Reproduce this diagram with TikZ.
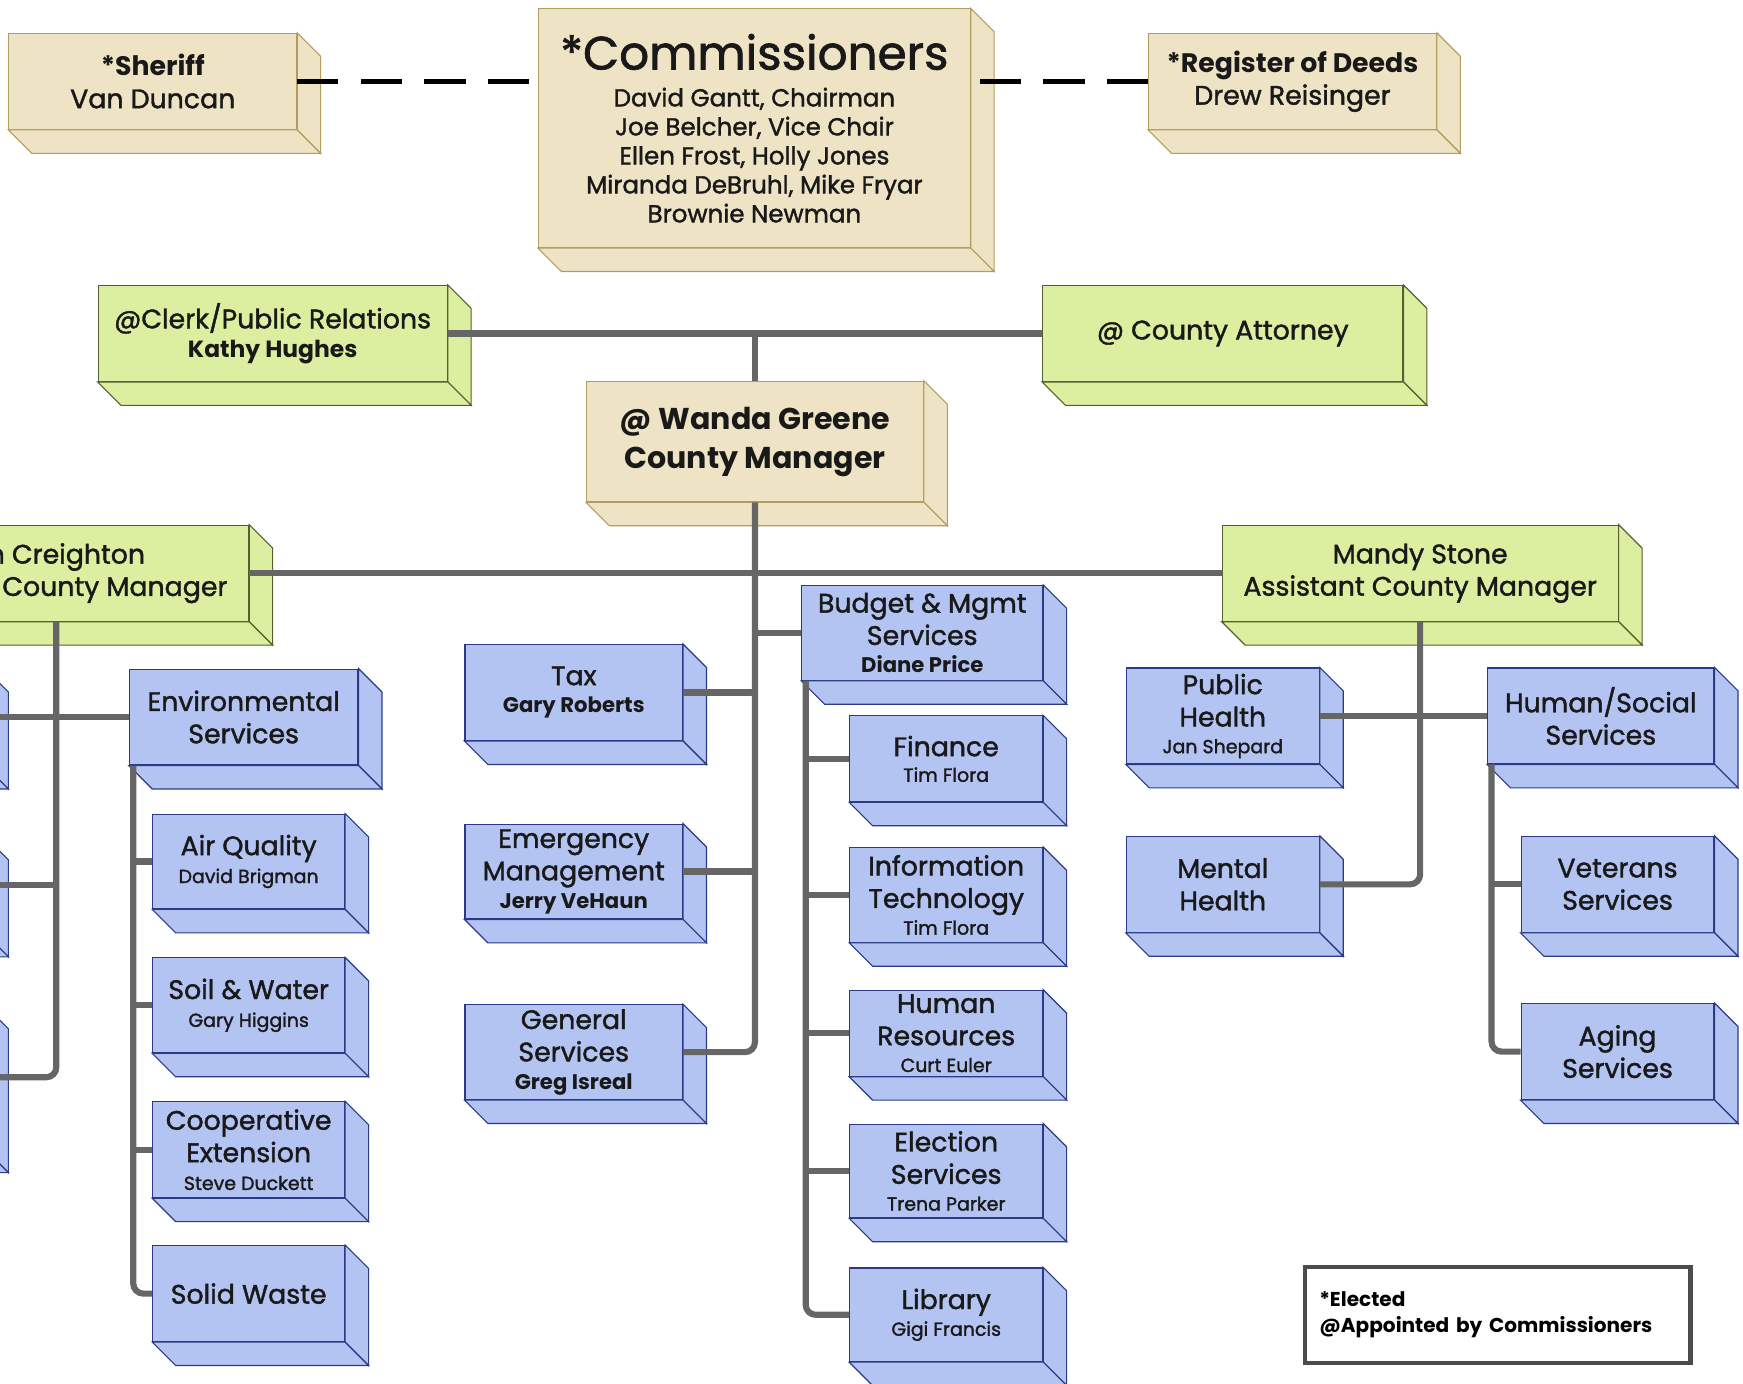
\documentclass[tikz,border=0pt]{standalone}
\usepackage{fontspec}
\setmainfont{Poppins}[UprightFeatures={FakeBold=1.5}]
\definecolor{tanfill}{HTML}{EEE4C5}
\definecolor{tanline}{HTML}{B39D5E}
\definecolor{greenfill}{HTML}{DCEFA0}
\definecolor{greenline}{HTML}{55602E}
\definecolor{bluefill}{HTML}{B4C4F2}
\definecolor{blueline}{HTML}{2B3A86}
\definecolor{connc}{HTML}{666666}
\newcommand\fmain{\fontsize{24}{29}\selectfont}
\newcommand\fname{\fontsize{17}{25}\selectfont}
\newcommand\fbname{\fontsize{19}{25}\selectfont\bfseries}
\begin{document}
\begin{tikzpicture}[x=1pt,y=-1pt,
  box/.style={rectangle, draw, line width=1pt, inner sep=0pt, align=center, font=\fmain, text=black!90},
  tanbox/.style={box, fill=tanfill, draw=tanline},
  greenbox/.style={box, fill=greenfill, draw=greenline},
  bluebox/.style={box, fill=bluefill, draw=blueline},
  tanface/.style={fill=tanfill, draw=tanline, line width=1pt},
  greenface/.style={fill=greenfill, draw=greenline, line width=1pt},
  blueface/.style={fill=bluefill, draw=blueline, line width=1pt},
  conn/.style={draw=connc, line width=5.5pt, rounded corners=9pt},
  dashline/.style={draw=black, line width=4pt, dash pattern=on 37pt off 20pt}]
\useasboundingbox (0,0) rectangle (1563,1241);
\clip (0,0) rectangle (1563,1241);
% elected and top level
\node[tanbox, minimum width=258pt, minimum height=86pt] (sheriff) at (137,73) {{\bfseries *Sheriff}\\Van Duncan};
\node[tanbox, minimum width=387pt, minimum height=214pt, font=\fontsize{22}{26}\selectfont] (comm) at (676.5,115) {{\fontsize{42}{50}\selectfont *Commissioners}\\[7pt]
  David Gantt, Chairman\\Joe Belcher, Vice Chair\\Ellen Frost, Holly Jones\\Miranda DeBruhl, Mike Fryar\\Brownie Newman};
\node[tanbox, minimum width=258pt, minimum height=86pt] (deeds) at (1159,73) {{\bfseries *Register of Deeds}\\Drew Reisinger};
\node[greenbox, minimum width=313pt, minimum height=86pt] (clerk) at (244.5,299) {@Clerk/Public Relations\\[-3pt]{\fontsize{21}{25}\selectfont\bfseries Kathy Hughes}};
\node[greenbox, minimum width=323pt, minimum height=86pt] (atty) at (1096.5,299) {@ County Attorney};
\node[tanbox, minimum width=302pt, minimum height=108pt, font=\fontsize{27}{35}\selectfont\bfseries] (wanda) at (677,396) {@ Wanda Greene\\County Manager};
\node[greenbox, minimum width=355pt, minimum height=86pt] (acml) at (45.5,514) {Jon Creighton\\Assistant County Manager};
\node[greenbox, minimum width=355pt, minimum height=86pt] (acmr) at (1273.5,514) {Mandy Stone\\Assistant County Manager};
% left branch
\node[bluebox, minimum width=173pt, minimum height=86pt] (lb1) at (-100.5,643) {};
\node[bluebox, minimum width=173pt, minimum height=86pt] (lb2) at (-100.5,793.5) {};
\node[bluebox, minimum width=173pt, minimum height=128pt] (lb3) at (-100.5,966) {};
\node[bluebox, minimum width=205pt, minimum height=86pt] (env) at (218.5,643) {Environmental\\Services};
\node[bluebox, minimum width=172pt, minimum height=85pt] (air) at (223,772.5) {Air Quality\\[-4pt]{\fname David Brigman}};
\node[bluebox, minimum width=172pt, minimum height=85pt] (soil) at (223,901.5) {Soil \& Water\\[-4pt]{\fname Gary Higgins}};
\node[bluebox, minimum width=172pt, minimum height=86pt] (coop) at (223,1031) {Cooperative\\Extension\\[-4pt]{\fname Steve Duckett}};
\node[bluebox, minimum width=172pt, minimum height=86pt] (solid) at (223,1160) {Solid Waste};
% manager's departments
\node[bluebox, minimum width=195pt, minimum height=86pt] (tax) at (514.5,621) {Tax\\[-4pt]{\fbname Gary Roberts}};
\node[bluebox, minimum width=195pt, minimum height=85pt] (emerg) at (514.5,781.5) {Emergency\\Management\\[-4pt]{\fbname Jerry VeHaun}};
\node[bluebox, minimum width=195pt, minimum height=85pt] (gen) at (514.5,943.5) {General\\Services\\[-4pt]{\fbname Greg Isreal}};
\node[bluebox, minimum width=216pt, minimum height=85pt] (budget) at (827,567.5) {Budget \& Mgmt\\Services\\[-4pt]{\fbname Diane Price}};
\node[bluebox, minimum width=173pt, minimum height=77pt] (fin) at (848.5,680.5) {Finance\\[-6pt]{\fname Tim Flora}};
\node[bluebox, minimum width=173pt, minimum height=85pt] (it) at (848.5,802.5) {Information\\Technology\\[-5pt]{\fname Tim Flora}};
\node[bluebox, minimum width=173pt, minimum height=77pt] (hr) at (848.5,926.5) {Human\\Resources\\[-5pt]{\fname Curt Euler}};
\node[bluebox, minimum width=173pt, minimum height=84pt] (elec) at (848.5,1050) {Election\\Services\\[-5pt]{\fname Trena Parker}};
\node[bluebox, minimum width=173pt, minimum height=84pt] (lib) at (848.5,1179) {Library\\[-5pt]{\fname Gigi Francis}};
% right branch
\node[bluebox, minimum width=173pt, minimum height=86pt] (ph) at (1096.5,642) {Public\\Health\\[-5pt]{\fname Jan Shepard}};
\node[bluebox, minimum width=173pt, minimum height=86pt] (mh) at (1096.5,793) {Mental\\Health};
\node[bluebox, minimum width=203pt, minimum height=86pt] (hs) at (1435.5,642) {Human/Social\\Services};
\node[bluebox, minimum width=173pt, minimum height=86pt] (vet) at (1450.5,793) {Veterans\\Services};
\node[bluebox, minimum width=173pt, minimum height=86pt] (aging) at (1450.5,943) {Aging\\Services};
% side and bottom faces
\foreach \n in {sheriff,comm,deeds,wanda}{
  \draw[tanface] (\n.north east) -- ([shift={(21,21)}]\n.north east) -- ([shift={(21,21)}]\n.south east) -- (\n.south east) -- cycle;
  \draw[tanface] (\n.south west) -- (\n.south east) -- ([shift={(21,21)}]\n.south east) -- ([shift={(21,21)}]\n.south west) -- cycle;
}
\foreach \n in {clerk,atty,acml,acmr}{
  \draw[greenface] (\n.north east) -- ([shift={(21,21)}]\n.north east) -- ([shift={(21,21)}]\n.south east) -- (\n.south east) -- cycle;
  \draw[greenface] (\n.south west) -- (\n.south east) -- ([shift={(21,21)}]\n.south east) -- ([shift={(21,21)}]\n.south west) -- cycle;
}
\foreach \n in {lb1,lb2,lb3,env,air,soil,coop,solid,tax,emerg,gen,budget,fin,it,hr,elec,lib,ph,mh,hs,vet,aging}{
  \draw[blueface] (\n.north east) -- ([shift={(21,21)}]\n.north east) -- ([shift={(21,21)}]\n.south east) -- (\n.south east) -- cycle;
  \draw[blueface] (\n.south west) -- (\n.south east) -- ([shift={(21,21)}]\n.south east) -- ([shift={(21,21)}]\n.south west) -- cycle;
}
% connectors
\draw[dashline] (sheriff.east) -- (sheriff.east -| comm.west);
\draw[dashline] (deeds.west) -- (deeds.west -| comm.east);
\draw[conn] (clerk.east) -- (atty.west);
\draw[conn] (wanda.north) -- (wanda.north |- clerk.east);
\draw[conn] (acml.east) -- (acmr.west);
\draw[conn] (wanda.south) |- (gen.east);
\draw[conn] (wanda.south |- budget.west) -- (budget.west);
\draw[conn] (wanda.south |- tax.east) -- (tax.east);
\draw[conn] (wanda.south |- emerg.east) -- (emerg.east);
\draw[conn] ([xshift=4pt]budget.south west) |- (lib.west);
\foreach \n in {fin,it,hr,elec}
  \draw[conn] ([xshift=4pt]budget.south west |- \n.west) -- (\n.west);
\draw[conn] ([xshift=5pt]acml.south) |- (lb3.east);
\draw[conn] (lb1.east) -- (env.west);
\draw[conn] ([xshift=5pt]acml.south |- lb2.east) -- (lb2.east);
\draw[conn] ([xshift=4pt]env.south west) |- (solid.west);
\foreach \n in {air,soil,coop}
  \draw[conn] ([xshift=4pt]env.south west |- \n.west) -- (\n.west);
\draw[conn] (acmr.south) |- (mh.east);
\draw[conn] (ph.east) -- (hs.west);
\draw[conn] ([xshift=4pt]hs.south west) |- (aging.west);
\draw[conn] ([xshift=4pt]hs.south west |- vet.west) -- (vet.west);
% legend
\node[draw=black!70, line width=4pt, fill=white, minimum width=346pt, minimum height=86pt, text width=320pt, inner xsep=13pt, align=left, font=\fontsize{18}{24}\selectfont\bfseries] (legend) at (1343,1179) {*Elected\\@Appointed by Commissioners};
\end{tikzpicture}
\end{document}
